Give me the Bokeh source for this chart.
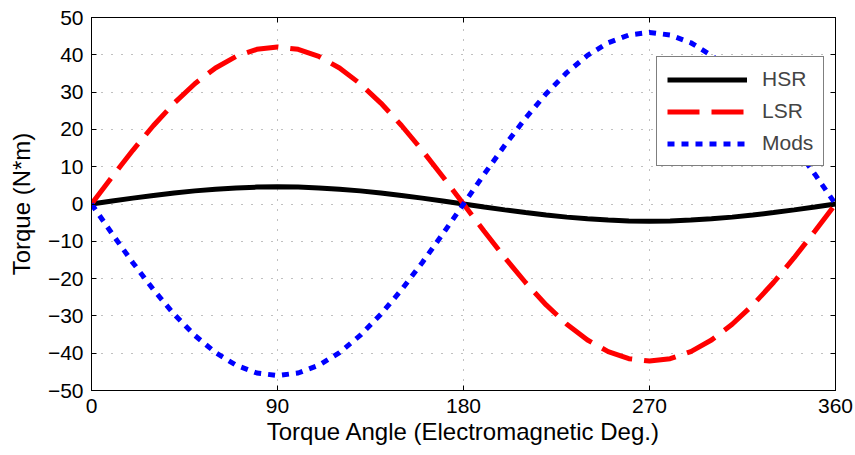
from bokeh.plotting import figure
from bokeh.models import LinearAxis, FixedTicker, Legend, LegendItem, Range1d
from bokeh.embed import file_html
from bokeh.resources import INLINE

angle = [0, 10, 20, 30, 40, 50, 60, 70, 80, 90, 100, 110, 120, 130, 140, 150, 160, 170, 180,
         190, 200, 210, 220, 230, 240, 250, 260, 270, 280, 290, 300, 310, 320, 330, 340, 350, 360]
hsr = [0, 0.8, 1.57, 2.3, 2.96, 3.52, 3.98, 4.32, 4.53, 4.6, 4.53, 4.32, 3.98, 3.52, 2.96, 2.3, 1.57, 0.8, 0,
       -0.8, -1.57, -2.3, -2.96, -3.52, -3.98, -4.32, -4.53, -4.6, -4.53, -4.32, -3.98, -3.52, -2.96, -2.3, -1.57, -0.8, 0]
lsr = [0, 7.3, 14.4, 21.05, 27.06, 32.25, 36.46, 39.56, 41.46, 42.1, 41.46, 39.56, 36.46, 32.25, 27.06, 21.05, 14.4, 7.3, 0,
       -7.3, -14.4, -21.05, -27.06, -32.25, -36.46, -39.56, -41.46, -42.1, -41.46, -39.56, -36.46, -32.25, -27.06, -21.05, -14.4, -7.3, 0]
mods = [0, -7.99, -15.73, -23.0, -29.57, -35.24, -39.84, -43.23, -45.3, -46.0, -45.3, -43.23, -39.84, -35.24, -29.57, -23.0, -15.73, -7.99, 0,
        7.99, 15.73, 23.0, 29.57, 35.24, 39.84, 43.23, 45.3, 46.0, 45.3, 43.23, 39.84, 35.24, 29.57, 23.0, 15.73, 7.99, 0]
x_ticks = [0, 90, 180, 270, 360]
y_ticks = [-50, -40, -30, -20, -10, 0, 10, 20, 30, 40, 50]
y_labels = ["\u221250", "\u221240", "\u221230", "\u221220", "\u221210", "0", "10", "20", "30", "40", "50"]

FONT = "Liberation Sans"

p = figure(width=855, height=455, output_backend="svg", toolbar_location=None,
           x_range=Range1d(0, 360), y_range=Range1d(-50, 50),
           min_border_left=91, min_border_right=20, min_border_top=17, min_border_bottom=65)
p.background_fill_color = "white"
p.border_fill_color = "white"
p.outline_line_color = "black"
p.outline_line_width = 1

r1 = p.line(angle, hsr, line_color="black", line_width=5)
r2 = p.line(angle, lsr, line_color="#ff0000", line_width=5, line_dash="32 12")
r3 = p.line(angle, mods, line_color="#0000ff", line_width=5, line_dash="7 7")

for ax in [p.xaxis[0], p.yaxis[0]]:
    ax.major_tick_in = 5
    ax.major_tick_out = 0
    ax.minor_tick_line_color = None
    ax.axis_line_color = "black"
    ax.major_tick_line_color = "black"
    ax.major_label_text_font = FONT
    ax.major_label_text_font_size = "21px"
    ax.major_label_text_color = "black"
    ax.axis_label_text_font = FONT
    ax.axis_label_text_font_size = "24px"
    ax.axis_label_text_font_style = "normal"
    ax.axis_label_text_color = "black"

p.xaxis[0].ticker = FixedTicker(ticks=x_ticks)
p.yaxis[0].ticker = FixedTicker(ticks=y_ticks)
p.yaxis[0].major_label_overrides = {t: l for t, l in zip(y_ticks, y_labels)}
p.xaxis[0].axis_label = "Torque Angle (Electromagnetic Deg.)"
p.yaxis[0].axis_label = "Torque (N*m)"
p.xaxis[0].major_label_standoff = 8
p.yaxis[0].major_label_standoff = 8
p.xaxis[0].axis_label_standoff = 2
p.yaxis[0].axis_label_standoff = 10

top = LinearAxis(ticker=FixedTicker(ticks=x_ticks))
right = LinearAxis(ticker=FixedTicker(ticks=y_ticks))
for ax in [top, right]:
    ax.major_tick_in = 5
    ax.major_tick_out = 0
    ax.minor_tick_line_color = None
    ax.major_label_text_color = None
    ax.major_label_text_font_size = "1px"
    ax.major_label_standoff = 0
    ax.axis_line_color = "black"
p.add_layout(top, "above")
p.add_layout(right, "right")

p.xgrid.ticker = FixedTicker(ticks=x_ticks)
p.ygrid.ticker = FixedTicker(ticks=y_ticks)
for g in [p.xgrid[0], p.ygrid[0]]:
    g.grid_line_color = "#808080"
    g.grid_line_dash = "1 9"
    g.grid_line_width = 1

legend = Legend(items=[LegendItem(label="HSR", renderers=[r1]),
                       LegendItem(label="LSR", renderers=[r2]),
                       LegendItem(label="Mods", renderers=[r3])],
                location=(565, 224))
legend.glyph_width = 80
legend.glyph_height = 21
legend.label_height = 21
legend.spacing = 8
legend.padding = 10
legend.margin = 0
legend.label_standoff = 15
legend.label_text_font = FONT
legend.label_text_font_size = "21px"
legend.border_line_color = "black"
legend.border_line_width = 1
legend.background_fill_alpha = 1
p.add_layout(legend, "center")

open("out.html", "w").write(file_html(p, INLINE))
